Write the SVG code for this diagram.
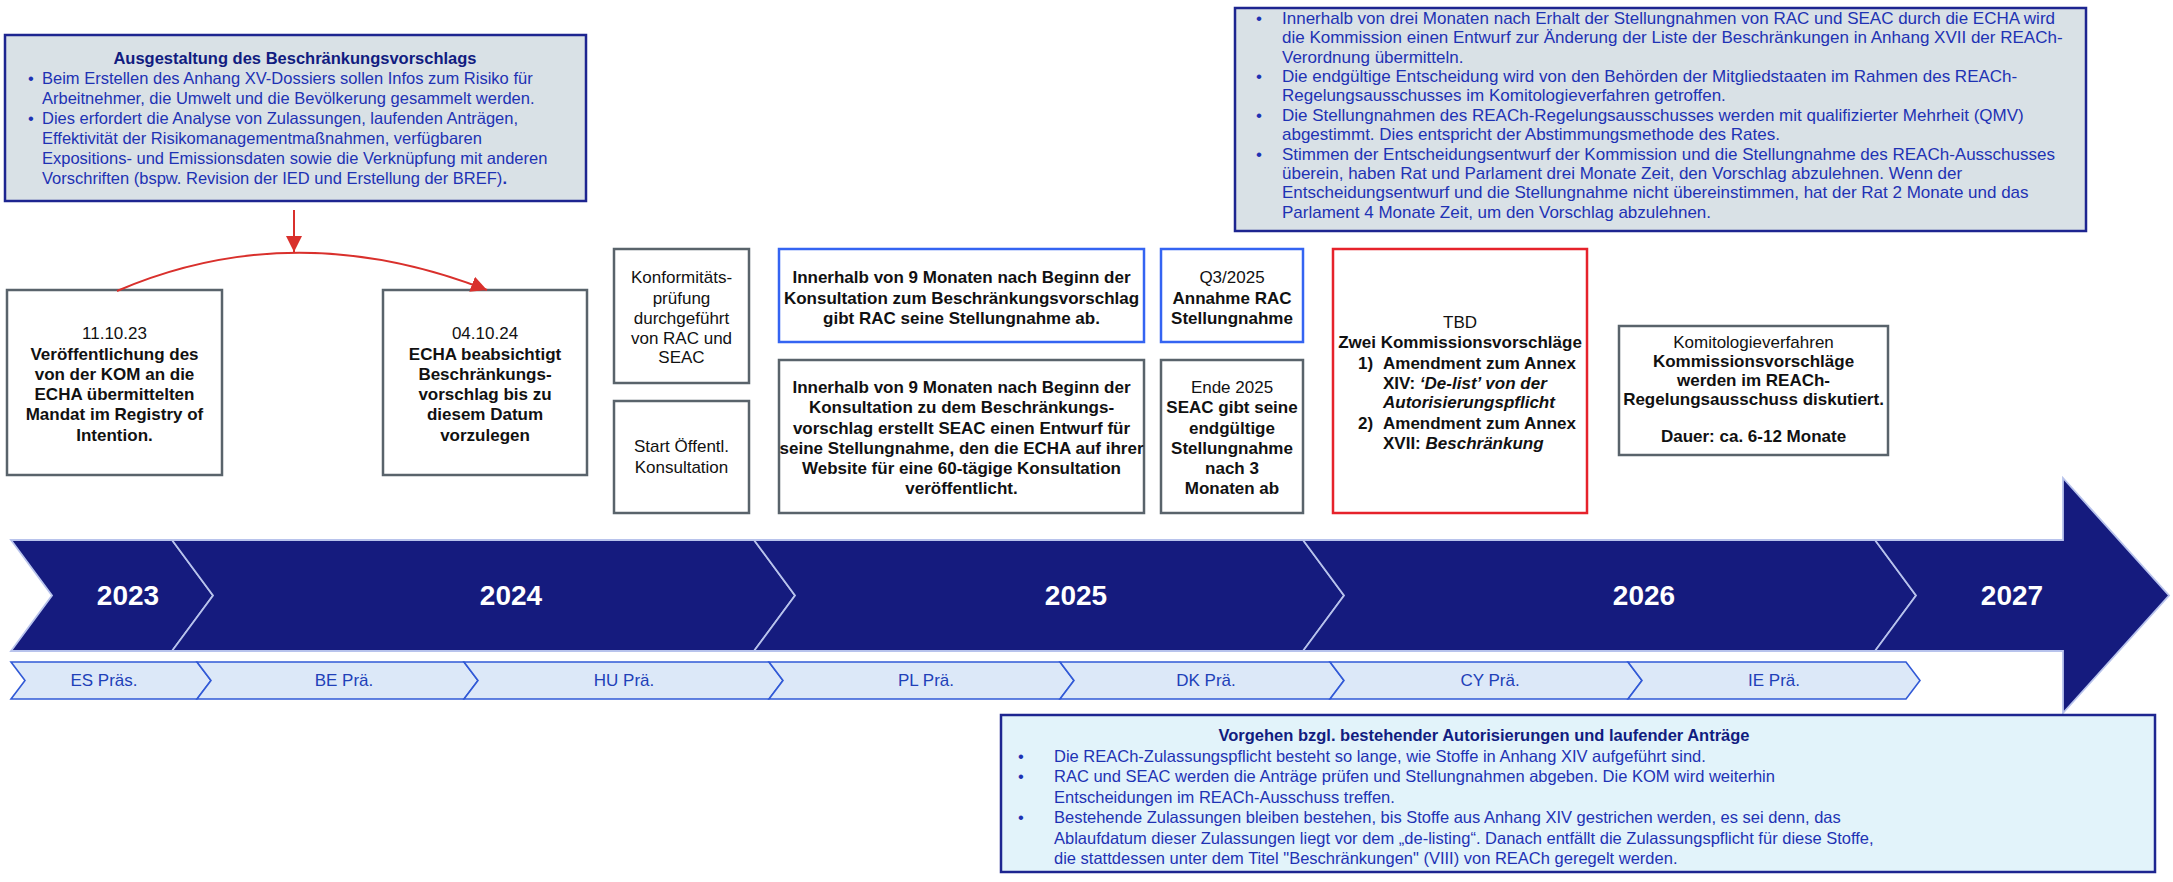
<svg xmlns="http://www.w3.org/2000/svg" width="2173" height="882" viewBox="0 0 2173 882">
<defs>
<style>
text{font-family:"Liberation Sans",Arial,sans-serif;}
.box{fill:#fff;stroke:#59636b;stroke-width:2.5}
.bbox{fill:#fff;stroke:#3464f2;stroke-width:2.5}
.rbox{fill:#fff;stroke:#e6222b;stroke-width:2.5}
.note{fill:#d9e1e6;stroke:#1d2590;stroke-width:2.5}
.note2{fill:#e2f3fa;stroke:#1d2590;stroke-width:2.5}
.t{font-size:17px;fill:#111;text-anchor:middle}
.s{text-anchor:start}
.b{font-weight:bold}
.i{font-style:italic}
.n{font-size:16.5px;fill:#1e32b4}
.nt{font-size:16.5px;fill:#111c80;font-weight:bold;text-anchor:middle}
.nr{font-size:17px;fill:#1e32b4}
.chev{fill:#151b7e;stroke:#b8c3ec;stroke-width:1.8}
.yr{font-size:28px;font-weight:bold;fill:#fff;text-anchor:middle}
.pres{fill:#dce8f8;stroke:#3159d6;stroke-width:1.6}
.pt{font-size:17px;fill:#2140b8;text-anchor:middle}
.red{fill:none;stroke:#d9302c;stroke-width:2}
</style>
<marker id="ah" viewBox="0 0 10 10" refX="10" refY="5" markerWidth="16" markerHeight="16" markerUnits="userSpaceOnUse" orient="auto">
<path d="M0,0 L10,5 L0,10 z" fill="#d9302c"/>
</marker>
</defs>

<g id="timeline">
<polygon class="chev" points="11,540 172,540 213,595.5 172,651 11,651 52,595.5"/>
<polygon class="chev" points="172,540 754,540 795,595.5 754,651 172,651 213,595.5"/>
<polygon class="chev" points="754,540 1303,540 1344,595.5 1303,651 754,651 795,595.5"/>
<polygon class="chev" points="1303,540 1875,540 1916,595.5 1875,651 1303,651 1344,595.5"/>
<polygon class="chev" points="1875,540 2063,540 2063,478 2169,595.5 2063,713 2063,651 1875,651 1916,595.5"/>
<text class="yr" x="128" y="605">2023</text>
<text class="yr" x="511" y="605">2024</text>
<text class="yr" x="1076" y="605">2025</text>
<text class="yr" x="1644" y="605">2026</text>
<text class="yr" x="2012" y="605">2027</text>
</g>

<g id="presidencies">
<polygon class="pres" points="11,662 197,662 211,680.5 197,699 11,699 25,680.5"/>
<polygon class="pres" points="197,662 464,662 478,680.5 464,699 197,699 211,680.5"/>
<polygon class="pres" points="464,662 769,662 783,680.5 769,699 464,699 478,680.5"/>
<polygon class="pres" points="769,662 1060,662 1074,680.5 1060,699 769,699 783,680.5"/>
<polygon class="pres" points="1060,662 1330,662 1344,680.5 1330,699 1060,699 1074,680.5"/>
<polygon class="pres" points="1330,662 1628,662 1642,680.5 1628,699 1330,699 1344,680.5"/>
<polygon class="pres" points="1628,662 1906,662 1920,680.5 1906,699 1628,699 1642,680.5"/>
<text class="pt" x="104" y="686">ES Präs.</text>
<text class="pt" x="344" y="686">BE Prä.</text>
<text class="pt" x="624" y="686">HU Prä.</text>
<text class="pt" x="926" y="686">PL Prä.</text>
<text class="pt" x="1206" y="686">DK Prä.</text>
<text class="pt" x="1490" y="686">CY Prä.</text>
<text class="pt" x="1774" y="686">IE Prä.</text>
</g>

<g id="note-ausgestaltung">
<rect class="note" x="5" y="35" width="581" height="166"/>
<text class="nt" x="295" y="64">Ausgestaltung des Beschränkungsvorschlags</text>
<text class="n" x="28" y="84">•</text>
<text class="n" x="42" y="84">Beim Erstellen des Anhang XV-Dossiers sollen Infos zum Risiko für</text>
<text class="n" x="42" y="104">Arbeitnehmer, die Umwelt und die Bevölkerung gesammelt werden.</text>
<text class="n" x="28" y="124">•</text>
<text class="n" x="42" y="124">Dies erfordert die Analyse von Zulassungen, laufenden Anträgen,</text>
<text class="n" x="42" y="144">Effektivität der Risikomanagementmaßnahmen, verfügbaren</text>
<text class="n" x="42" y="164">Expositions- und Emissionsdaten sowie die Verknüpfung mit anderen</text>
<text class="n" x="42" y="184">Vorschriften (bspw. Revision der IED und Erstellung der BREF)<tspan class="b">.</tspan></text>
</g>

<g id="note-komitologie">
<rect class="note" x="1235" y="8" width="851" height="223"/>
<text class="nr" x="1256" y="24">•</text>
<text class="nr" x="1282" y="24">Innerhalb von drei Monaten nach Erhalt der Stellungnahmen von RAC und SEAC durch die ECHA wird</text>
<text class="nr" x="1282" y="43.4">die Kommission einen Entwurf zur Änderung der Liste der Beschränkungen in Anhang XVII der REACh-</text>
<text class="nr" x="1282" y="62.7">Verordnung übermitteln.</text>
<text class="nr" x="1256" y="82">•</text>
<text class="nr" x="1282" y="82">Die endgültige Entscheidung wird von den Behörden der Mitgliedstaaten im Rahmen des REACh-</text>
<text class="nr" x="1282" y="101.4">Regelungsausschusses im Komitologieverfahren getroffen.</text>
<text class="nr" x="1256" y="120.8">•</text>
<text class="nr" x="1282" y="120.8">Die Stellungnahmen des REACh-Regelungsausschusses werden mit qualifizierter Mehrheit (QMV)</text>
<text class="nr" x="1282" y="140">abgestimmt. Dies entspricht der Abstimmungsmethode des Rates.</text>
<text class="nr" x="1256" y="159.5">•</text>
<text class="nr" x="1282" y="159.5">Stimmen der Entscheidungsentwurf der Kommission und die Stellungnahme des REACh-Ausschusses</text>
<text class="nr" x="1282" y="178.8">überein, haben Rat und Parlament drei Monate Zeit, den Vorschlag abzulehnen. Wenn der</text>
<text class="nr" x="1282" y="198">Entscheidungsentwurf und die Stellungnahme nicht übereinstimmen, hat der Rat 2 Monate und das</text>
<text class="nr" x="1282" y="217.5">Parlament 4 Monate Zeit, um den Vorschlag abzulehnen.</text>
</g>

<g id="node-mandat">
<rect class="box" x="7" y="290" width="215" height="185"/>
<text class="t" x="114.5" y="339">11.10.23</text>
<text class="t b" x="114.5" y="360">Veröffentlichung des</text>
<text class="t b" x="114.5" y="380">von der KOM an die</text>
<text class="t b" x="114.5" y="400">ECHA übermittelten</text>
<text class="t b" x="114.5" y="420">Mandat im Registry of</text>
<text class="t b" x="114.5" y="441">Intention.</text>
</g>

<g id="node-echa">
<rect class="box" x="383" y="290" width="204" height="185"/>
<text class="t" x="485" y="339">04.10.24</text>
<text class="t b" x="485" y="360">ECHA beabsichtigt</text>
<text class="t b" x="485" y="380">Beschränkungs-</text>
<text class="t b" x="485" y="400">vorschlag bis zu</text>
<text class="t b" x="485" y="420">diesem Datum</text>
<text class="t b" x="485" y="441">vorzulegen</text>
</g>

<g id="node-konformitaet">
<rect class="box" x="614" y="249" width="135" height="134"/>
<text class="t" x="681.5" y="283">Konformitäts-</text>
<text class="t" x="681.5" y="304">prüfung</text>
<text class="t" x="681.5" y="324">durchgeführt</text>
<text class="t" x="681.5" y="344">von RAC und</text>
<text class="t" x="681.5" y="363">SEAC</text>
</g>

<g id="node-konsultation">
<rect class="box" x="614" y="401" width="135" height="112"/>
<text class="t" x="681.5" y="452">Start Öffentl.</text>
<text class="t" x="681.5" y="473">Konsultation</text>
</g>

<g id="node-rac">
<rect class="bbox" x="779" y="249" width="365" height="93"/>
<text class="t b" x="961.5" y="283">Innerhalb von 9 Monaten nach Beginn der</text>
<text class="t b" x="961.5" y="304">Konsultation zum Beschränkungsvorschlag</text>
<text class="t b" x="961.5" y="324">gibt RAC seine Stellungnahme ab.</text>
</g>

<g id="node-seac">
<rect class="box" x="779" y="360" width="365" height="153"/>
<text class="t b" x="961.5" y="393">Innerhalb von 9 Monaten nach Beginn der</text>
<text class="t b" x="961.5" y="413">Konsultation zu dem Beschränkungs-</text>
<text class="t b" x="961.5" y="434">vorschlag erstellt SEAC einen Entwurf für</text>
<text class="t b" x="961.5" y="454">seine Stellungnahme, den die ECHA auf ihrer</text>
<text class="t b" x="961.5" y="474">Website für eine 60-tägige Konsultation</text>
<text class="t b" x="961.5" y="494">veröffentlicht.</text>
</g>

<g id="node-q3">
<rect class="bbox" x="1161" y="249" width="142" height="93"/>
<text class="t" x="1232" y="283">Q3/2025</text>
<text class="t b" x="1232" y="304">Annahme RAC</text>
<text class="t b" x="1232" y="324">Stellungnahme</text>
</g>

<g id="node-ende2025">
<rect class="box" x="1161" y="360" width="142" height="153"/>
<text class="t" x="1232" y="393">Ende 2025</text>
<text class="t b" x="1232" y="413">SEAC gibt seine</text>
<text class="t b" x="1232" y="434">endgültige</text>
<text class="t b" x="1232" y="454">Stellungnahme</text>
<text class="t b" x="1232" y="474">nach 3</text>
<text class="t b" x="1232" y="494">Monaten ab</text>
</g>

<g id="node-tbd">
<rect class="rbox" x="1333" y="249" width="254" height="264"/>
<text class="t" x="1460" y="328">TBD</text>
<text class="t b" x="1460" y="348">Zwei Kommissionsvorschläge</text>
<text class="t b s" x="1358" y="369">1)</text>
<text class="t b s" x="1383" y="369">Amendment zum Annex</text>
<text class="t b s" x="1383" y="389">XIV: <tspan class="i">‘De-list’ von der</tspan></text>
<text class="t b i s" x="1383" y="408">Autorisierungspflicht</text>
<text class="t b s" x="1358" y="429">2)</text>
<text class="t b s" x="1383" y="429">Amendment zum Annex</text>
<text class="t b s" x="1383" y="449">XVII: <tspan class="i">Beschränkung</tspan></text>
</g>

<g id="node-komitologie">
<rect class="box" x="1619" y="326" width="269" height="129"/>
<text class="t" x="1753.5" y="348">Komitologieverfahren</text>
<text class="t b" x="1753.5" y="367">Kommissionsvorschläge</text>
<text class="t b" x="1753.5" y="386">werden im REACh-</text>
<text class="t b" x="1753.5" y="405">Regelungsausschuss diskutiert.</text>
<text class="t b" x="1753.5" y="442">Dauer: ca. 6-12 Monate</text>
</g>

<g id="note-autorisierungen">
<rect class="note2" x="1001" y="715" width="1154" height="157"/>
<text class="nt" x="1484" y="741">Vorgehen bzgl. bestehender Autorisierungen und laufender Anträge</text>
<text class="n" x="1018" y="761.5">•</text>
<text class="n" x="1054" y="761.5">Die REACh-Zulassungspflicht besteht so lange, wie Stoffe in Anhang XIV aufgeführt sind.</text>
<text class="n" x="1018" y="782">•</text>
<text class="n" x="1054" y="782">RAC und SEAC werden die Anträge prüfen und Stellungnahmen abgeben. Die KOM wird weiterhin</text>
<text class="n" x="1054" y="802.5">Entscheidungen im REACh-Ausschuss treffen.</text>
<text class="n" x="1018" y="823">•</text>
<text class="n" x="1054" y="823">Bestehende Zulassungen bleiben bestehen, bis Stoffe aus Anhang XIV gestrichen werden, es sei denn, das</text>
<text class="n" x="1054" y="843.5">Ablaufdatum dieser Zulassungen liegt vor dem „de-listing“. Danach entfällt die Zulassungspflicht für diese Stoffe,</text>
<text class="n" x="1054" y="864">die stattdessen unter dem Titel "Beschränkungen" (VIII) von REACh geregelt werden.</text>
</g>

<g id="connectors">
<line class="red" x1="294" y1="210" x2="294" y2="252" marker-end="url(#ah)"/>
<path class="red" d="M117,291 Q294,215 487,290" marker-end="url(#ah)"/>
</g>
</svg>
